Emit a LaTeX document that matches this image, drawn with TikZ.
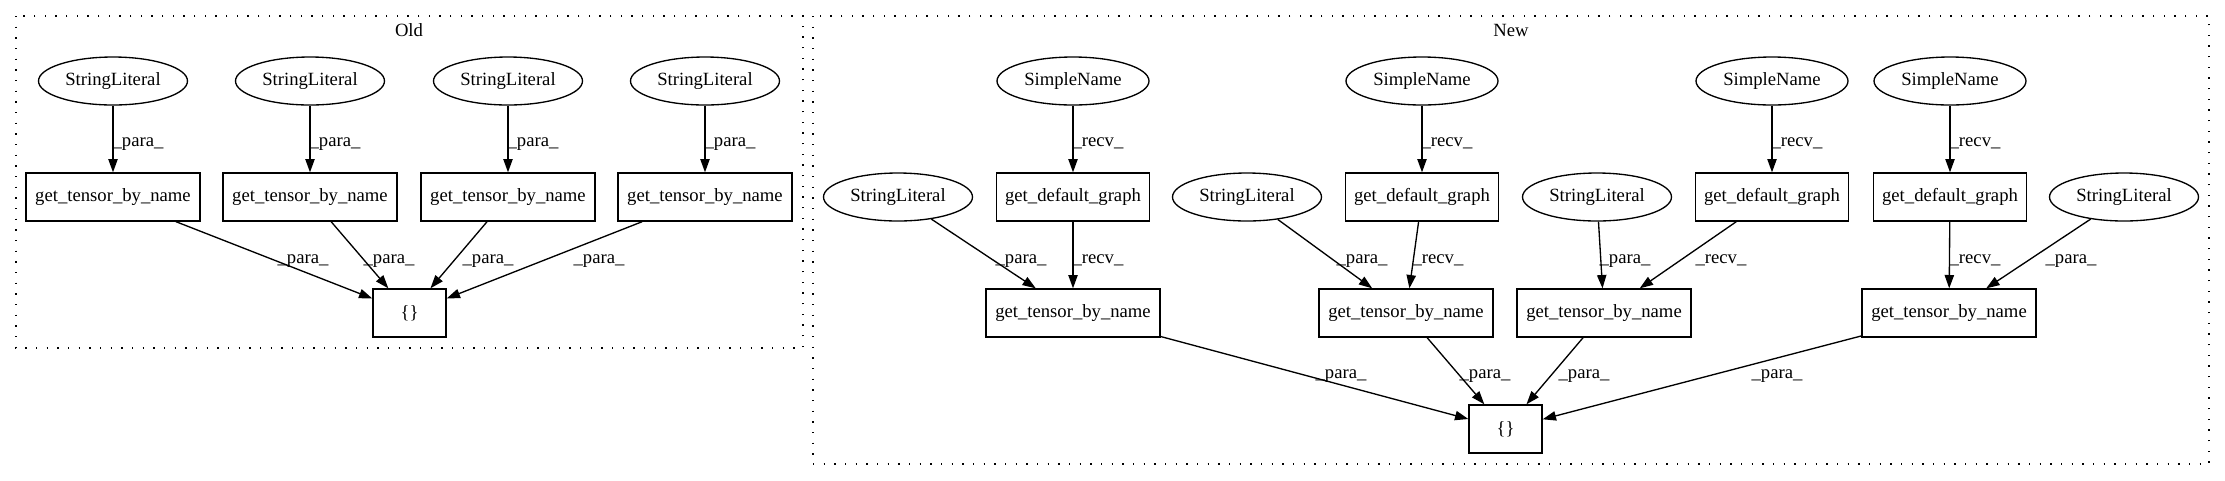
\documentclass[tikz,border=0pt]{standalone}
\usepackage{fontspec}
\setmainfont{Liberation Serif}
\usetikzlibrary{shapes.geometric,arrows.meta}
\begin{document}
\begin{tikzpicture}[x=0.75pt,y=-0.75pt,
  every node/.style={font=\fontsize{14}{16}\selectfont},
  box/.style={draw, line width=1pt, rectangle, minimum height=36pt, inner sep=0pt},
  gtbn/.style={box, minimum width=130.5pt},
  gdg/.style={box, minimum width=115pt},
  brace/.style={box, minimum width=54.75pt},
  sl/.style={draw, line width=1pt, ellipse, minimum width=111.75pt, minimum height=36pt, inner sep=0pt},
  sn/.style={sl, minimum width=114pt},
  edge/.style={draw, line width=1pt, -{Triangle[length=10pt,width=7pt]}},
  lbl/.style={anchor=base, inner sep=0pt},
  cluster/.style={draw, line width=1pt, dash pattern=on 1pt off 7pt}
]
\useasboundingbox (0,0) rectangle (2225,480);

% clusters
\draw[cluster] (16,16) rectangle (803,348);
\node[lbl] (oldlbl) at (409,36) {Old};
\draw[cluster] (813,16) rectangle (2209,464);
\node[lbl] (newlbl) at (1511,36) {New};

% Old nodes
\node[sl] (osl1) at (113,81) {StringLiteral};
\node[sl] (osl2) at (310,81) {StringLiteral};
\node[sl] (osl3) at (508,81) {StringLiteral};
\node[sl] (osl4) at (705,81) {StringLiteral};
\node[gtbn] (og1) at (113,197) {get\_tensor\_by\_name};
\node[gtbn] (og2) at (310,197) {get\_tensor\_by\_name};
\node[gtbn] (og3) at (508,197) {get\_tensor\_by\_name};
\node[gtbn] (og4) at (705,197) {get\_tensor\_by\_name};
\node[brace] (obr) at (409.5,313) {\{\}};

\draw[edge] (osl1) -- (og1) node[lbl] at (138,146) {\_para\_};
\draw[edge] (osl2) -- (og2) node[lbl] at (335,146) {\_para\_};
\draw[edge] (osl3) -- (og3) node[lbl] at (533,146) {\_para\_};
\draw[edge] (osl4) -- (og4) node[lbl] at (730,146) {\_para\_};
\draw[edge] (og1) -- (obr) node[lbl] at (303,263) {\_para\_};
\draw[edge] (og2) -- (obr) node[lbl] at (389,263) {\_para\_};
\draw[edge] (og3) -- (obr) node[lbl] at (488,263) {\_para\_};
\draw[edge] (og4) -- (obr) node[lbl] at (599,263) {\_para\_};

% New nodes
\node[sn] (sn1) at (1073,81) {SimpleName};
\node[sn] (sn2) at (1422,81) {SimpleName};
\node[sn] (sn3) at (1772,81) {SimpleName};
\node[sn] (sn4) at (1950,81) {SimpleName};
\node[sl] (nsl1) at (898,197) {StringLiteral};
\node[gdg] (gdg1) at (1073,197) {get\_default\_graph};
\node[sl] (nsl2) at (1247,197) {StringLiteral};
\node[gdg] (gdg2) at (1422,197) {get\_default\_graph};
\node[sl] (nsl3) at (1597,197) {StringLiteral};
\node[gdg] (gdg3) at (1772,197) {get\_default\_graph};
\node[gdg] (gdg4) at (1950,197) {get\_default\_graph};
\node[sl] (nsl4) at (2124,197) {StringLiteral};
\node[gtbn] (ng1) at (1073,313) {get\_tensor\_by\_name};
\node[gtbn] (ng2) at (1406,313) {get\_tensor\_by\_name};
\node[gtbn] (ng3) at (1604,313) {get\_tensor\_by\_name};
\node[gtbn] (ng4) at (1949,313) {get\_tensor\_by\_name};
\node[brace] (nbr) at (1505.5,429) {\{\}};

\draw[edge] (sn1) -- (gdg1) node[lbl] at (1098,146) {\_recv\_};
\draw[edge] (sn2) -- (gdg2) node[lbl] at (1447,146) {\_recv\_};
\draw[edge] (sn3) -- (gdg3) node[lbl] at (1797,146) {\_recv\_};
\draw[edge] (sn4) -- (gdg4) node[lbl] at (1975,146) {\_recv\_};

\draw[edge] (nsl1) -- (ng1) node[lbl] at (1021,263) {\_para\_};
\draw[edge] (gdg1) -- (ng1) node[lbl] at (1098,263) {\_recv\_};
\draw[edge] (nsl2) -- (ng2) node[lbl] at (1362,263) {\_para\_};
\draw[edge] (gdg2) -- (ng2) node[lbl] at (1438,263) {\_recv\_};
\draw[edge] (nsl3) -- (ng3) node[lbl] at (1625,263) {\_para\_};
\draw[edge] (gdg3) -- (ng3) node[lbl] at (1721,263) {\_recv\_};
\draw[edge] (gdg4) -- (ng4) node[lbl] at (1975,263) {\_recv\_};
\draw[edge] (nsl4) -- (ng4) node[lbl] at (2071,263) {\_para\_};

\draw[edge] (ng1) -- (nbr) node[lbl] at (1341,378) {\_para\_};
\draw[edge] (ng2) -- (nbr) node[lbl] at (1485,378) {\_para\_};
\draw[edge] (ng3) -- (nbr) node[lbl] at (1584,378) {\_para\_};
\draw[edge] (ng4) -- (nbr) node[lbl] at (1777,378) {\_para\_};
\end{tikzpicture}
\end{document}
